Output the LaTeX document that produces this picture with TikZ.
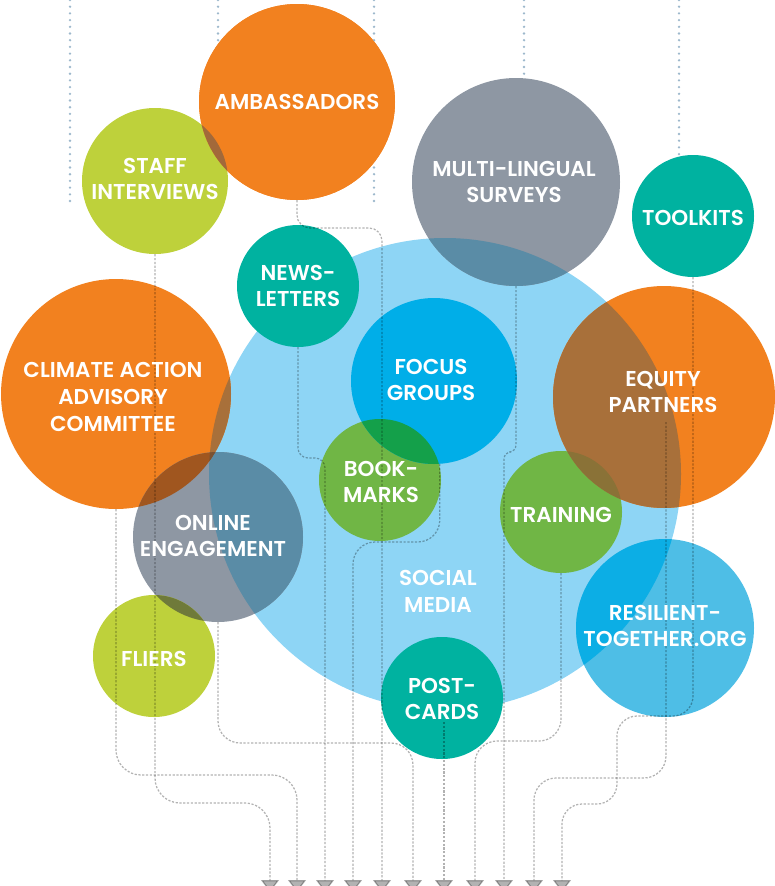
\documentclass[tikz,border=0pt]{standalone}
\usepackage{fontspec}
\newfontfamily\labfont{Poppins SemiBold}
\usetikzlibrary{arrows.meta}
\definecolor{orng}{HTML}{F2811F}
\definecolor{lime}{HTML}{BED13B}
\definecolor{slate}{HTML}{8E97A3}
\definecolor{tealc}{HTML}{00B2A0}
\definecolor{sky}{HTML}{8ED5F5}
\definecolor{focusblue}{HTML}{00AEE8}
\definecolor{leaf}{HTML}{70B645}
\definecolor{resblue}{HTML}{4EBEE6}
\definecolor{resin}{HTML}{0CAEE5}
\definecolor{ovAS}{HTML}{A2693A}
\definecolor{ovGB}{HTML}{5A8CA6}
\definecolor{ovOB}{HTML}{A8703A}
\definecolor{ovOT}{HTML}{8A7237}
\definecolor{ovOG}{HTML}{A0561F}
\definecolor{ovOGB}{HTML}{7A5232}
\definecolor{ovGL}{HTML}{6F7A3A}
\definecolor{ovFB}{HTML}{14A04A}
\definecolor{dotblue}{HTML}{9DB8CC}
\tikzset{
  blob/.style={circle, inner sep=0pt, draw=none, fill=#1},
  lab/.style={text=white, align=center, inner sep=0pt,
    font=\labfont\fontsize{21.5}{26.8}\selectfont},
  topdots/.style={draw=dotblue, line width=2.6pt, line cap=round,
    dash pattern=on 0pt off 6.7pt},
  conn/.style={draw=black, opacity=0.3, line width=1.25pt,
    dash pattern=on 2.2pt off 1.6pt, rounded corners=#1,
    -{Triangle[width=18pt,length=12pt]}},
  conn/.default=20
}
\begin{document}
\begin{tikzpicture}[x=1pt,y=-1pt]
\useasboundingbox (0,0) rectangle (775,886);
% top dotted lines
\coordinate (d1) at (70,0);  \coordinate (d1e) at (70,205);
\coordinate (d2) at (218,0);
\coordinate (d3) at (374,0); \coordinate (d3e) at (374,205);
\coordinate (d4) at (524,0);
\coordinate (d5) at (679,0);
% circles
\node[blob=sky, minimum size=472pt] (social) at (445,474) {};
\node[blob=orng, minimum size=196pt] (amb) at (297,102) {};
\node[blob=lime, minimum size=146pt] (staff) at (155,181) {};
\node[blob=slate, minimum size=208pt] (multi) at (516,182) {};
\node[blob=tealc, minimum size=122pt] (tool) at (693,216) {};
\node[blob=tealc, minimum size=122pt] (news) at (298,286) {};
\node[blob=orng, minimum size=230pt] (cli) at (116,394) {};
\node[blob=orng, minimum size=222pt] (equity) at (664,397) {};
\node[blob=leaf, minimum size=122pt] (book) at (380,480) {};
\node[blob=focusblue, minimum size=166pt] (focus) at (434,381) {};
\node[blob=slate, minimum size=170pt] (onl) at (218,537) {};
\node[blob=leaf, minimum size=122pt] (train) at (561,512) {};
\node[blob=resblue, minimum size=178pt] (res) at (665,628) {};
\node[blob=lime, minimum size=122pt] (fli) at (154,656) {};
\node[blob=tealc, minimum size=122pt] (post) at (442,698) {};
% overlaps
\begin{scope}\clip (social.center) circle (236); \fill[ovGB] (multi.center) circle (104);\end{scope}
\begin{scope}\clip (social.center) circle (236); \fill[ovOB] (equity.center) circle (111);\end{scope}
\begin{scope}\clip (train.center) circle (61); \fill[ovOT] (equity.center) circle (111);\end{scope}
\begin{scope}\clip (social.center) circle (236); \fill[ovOB] (cli.center) circle (115);\end{scope}
\begin{scope}\clip (social.center) circle (236); \fill[ovGB] (onl.center) circle (85);\end{scope}
\begin{scope}\clip (cli.center) circle (115); \fill[ovOG] (onl.center) circle (85);\end{scope}
\begin{scope}\clip (cli.center) circle (115); \clip (onl.center) circle (85); \fill[ovOGB] (social.center) circle (236);\end{scope}
\begin{scope}\clip (fli.center) circle (61); \fill[ovGL] (onl.center) circle (85);\end{scope}
\begin{scope}\clip (book.center) circle (61); \fill[ovFB] (focus.center) circle (83);\end{scope}
\begin{scope}\clip (social.center) circle (236); \fill[resin] (res.center) circle (89);\end{scope}
% dotted top lines
\draw[topdots] (d1) -- (d1e);
\draw[topdots] (d3) -- (d3e);
\draw[topdots] (d4) -- (multi.north -| d4);
\draw[topdots] (d5) -- (tool.north -| d5);
\draw[topdots] (d2) -- (218,44);
% ambassadors lies over the line at 374
\fill[orng] (amb.center) circle (98);
\begin{scope}\clip (amb.center) circle (98); \fill[ovAS] (staff.center) circle (73);\end{scope}
% arrow ends
\coordinate (a1) at (270,892);
\coordinate (a2) at (297,892);
\coordinate (a3) at (325,892);
\coordinate (a4) at (353,892);
\coordinate (a5) at (382,892);
\coordinate (a6) at (413,892);
\coordinate (a7) at (444,892);
\coordinate (a8) at (475,892);
\coordinate (a9) at (504,892);
\coordinate (a10) at (534,892);
\coordinate (a11) at (562,892);
\coordinate (postin) at (444,722);
\coordinate (eqin) at (666,422);
% connectors
\draw[conn=25] (staff.south) |- (270,803) -- (a1);
\draw[conn=25] (cli.south) |- (297,775) -- (a2);
\draw[conn=10] (news.south) |- (325,458) -- (a3);
\draw[conn=22] (focus.-86) |- (353,542) -- (a4);
\draw[conn=13] (amb.south) |- (382,228) -- (a5);
\draw[conn=22] (onl.south) |- (413,743) -- (a6);
\draw[conn] (postin) -- (a7);
\draw[conn=22] (train.south) |- (475,741) -- (a8);
\draw[conn=7] (multi.south) |- (504,452) -- (a9);
\draw[conn=22] (eqin) |- (534,778) -- (a10);
\draw[conn=20] (tool.south) |- (617,716) |- (562,804) -- (a11);
% labels
\node[lab] (tamb) at (297,102) {AMBASSADORS};
\node[lab] (tstaff) at (155,179) {STAFF\\INTERVIEWS};
\node[lab] (tmulti) at (514,182) {MULTI-LINGUAL\\SURVEYS};
\node[lab] (ttool) at (693,218) {TOOLKITS};
\node[lab] (tnews) at (298,286) {NEWS-\\LETTERS};
\node[lab] (tcli) at (113,397) {CLIMATE ACTION\\ADVISORY\\COMMITTEE};
\node[lab] (tfocus) at (431,380) {FOCUS\\GROUPS};
\node[lab] (tequity) at (663,392) {EQUITY\\PARTNERS};
\node[lab] (tbook) at (381,482) {BOOK-\\MARKS};
\node[lab] (tonl) at (213,536) {ONLINE\\ENGAGEMENT};
\node[lab] (ttrain) at (561,515) {TRAINING};
\node[lab] (tsocial) at (438,591) {SOCIAL\\MEDIA};
\node[lab] (tres) at (665,626) {RESILIENT-\\TOGETHER.ORG};
\node[lab] (tfli) at (154,659) {FLIERS};
\node[lab] (tpost) at (442,699) {POST-\\CARDS};
\end{tikzpicture}
\end{document}
